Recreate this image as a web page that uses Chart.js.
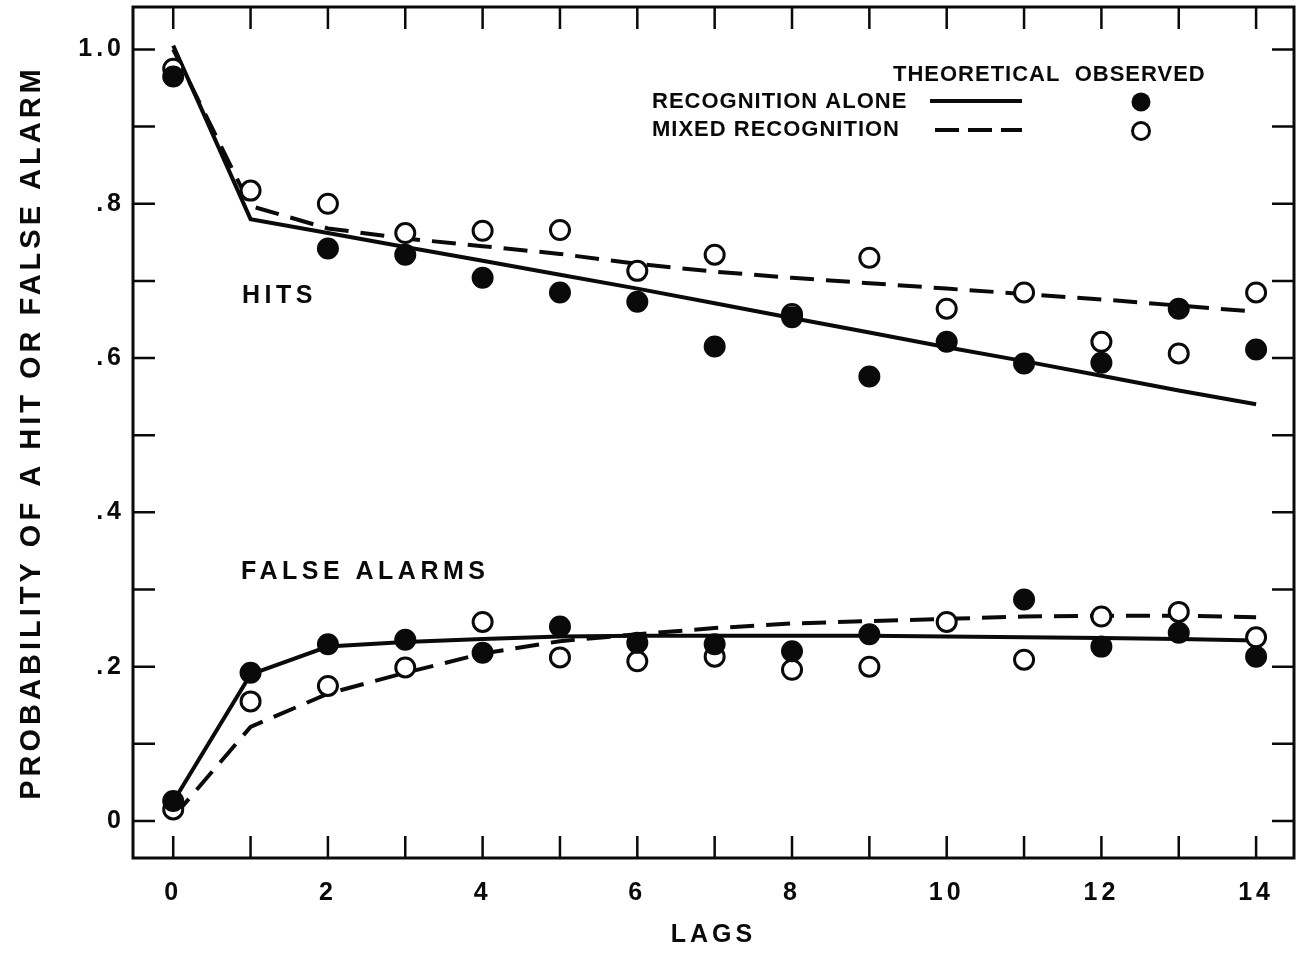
<!DOCTYPE html>
<html>
<head>
<meta charset="utf-8">
<script src="https://cdn.jsdelivr.net/npm/chart.js@4.4.1/dist/chart.umd.min.js"></script>
<style>
  html, body { margin: 0; padding: 0; background: #fff; }
  #wrap { width: 1296px; height: 954px; }
</style>
</head>
<body>
<div id="wrap"><canvas id="lagChart" width="1296" height="954"></canvas></div>
<script>
const lags = [0, 1, 2, 3, 4, 5, 6, 7, 8, 9, 10, 11, 12, 13, 14];

// theoretical curves
const hitsAloneTheory = [1.005, 0.780, 0.762, 0.744, 0.726, 0.708, 0.690, 0.671, 0.652, 0.633, 0.614, 0.596, 0.577, 0.558, 0.540];
const hitsMixedTheory = [1.0, 0.797, 0.768, 0.755, 0.745, 0.735, 0.722, 0.712, 0.704, 0.697, 0.690, 0.683, 0.676, 0.668, 0.660];
const faAloneTheory = [0.025, 0.190, 0.226, 0.232, 0.236, 0.239, 0.240, 0.240, 0.240, 0.240, 0.239, 0.238, 0.237, 0.236, 0.234];
const faMixedTheory = [0.005, 0.122, 0.165, 0.192, 0.217, 0.233, 0.242, 0.250, 0.256, 0.259, 0.262, 0.265, 0.266, 0.266, 0.264];

// observed points
const hitsAloneObs = [0.965, null, 0.742, 0.734, 0.704, 0.685, 0.673, 0.615, 0.653, 0.576, 0.621, 0.593, 0.594, 0.664, 0.611];
const hitsMixedObs = [0.975, 0.817, 0.800, 0.762, 0.765, 0.766, 0.713, 0.734, 0.657, 0.730, 0.664, 0.685, 0.621, 0.606, 0.685];
const faAloneObs = [0.026, 0.192, 0.229, 0.235, 0.218, 0.252, 0.231, 0.229, 0.220, 0.242, null, 0.287, 0.226, 0.244, 0.213];
const faMixedObs = [0.015, 0.155, 0.175, 0.199, 0.258, 0.212, 0.207, 0.213, 0.196, 0.200, 0.258, 0.209, 0.265, 0.271, 0.238];

const xTickLabels = [0, 2, 4, 6, 8, 10, 12, 14];
const yTickLabels = { 0: "0", 2: ".2", 4: ".4", 6: ".6", 8: ".8", 10: "1.0" };

const FONT = "'Liberation Sans', Arial, sans-serif";
const INK = "#0a0a0a";

const toPoints = (values) => lags.map((lag, i) => ({ x: lag, y: values[i] }));

const lineSet = (label, values, dashed) => ({
  label,
  data: toPoints(values),
  showLine: true,
  borderColor: INK,
  borderWidth: 4,
  borderDash: dashed ? [24, 12] : [],
  pointRadius: 0,
  tension: 0,
  order: 3,
});

const pointSet = (label, values, filled) => ({
  label,
  data: toPoints(values),
  showLine: false,
  pointRadius: 9.5,
  pointBorderWidth: 3,
  pointBorderColor: INK,
  pointBackgroundColor: filled ? INK : "#fff",
  order: filled ? 1 : 2,
});

// keep the plot frame where the original sits
const noPad = (s) => {
  s.paddingTop = 0;
  s.paddingBottom = 0;
  s.paddingLeft = 0;
  s.paddingRight = 0;
};

// frame, inward ticks, legend and inline labels
const framePlugin = {
  id: "frame",
  beforeDraw(chart) {
    chart.ctx.letterSpacing = "4px";
  },
  afterDraw(chart) {
    const { ctx, chartArea: a, scales } = chart;
    ctx.save();
    ctx.strokeStyle = INK;
    ctx.lineWidth = 3;
    ctx.strokeRect(a.left, a.top, a.right - a.left, a.bottom - a.top);
    ctx.lineWidth = 2.5;
    const tl = 22;
    lags.forEach((lag) => {
      const px = scales.x.getPixelForValue(lag);
      ctx.beginPath();
      ctx.moveTo(px, a.bottom); ctx.lineTo(px, a.bottom - tl);
      ctx.moveTo(px, a.top); ctx.lineTo(px, a.top + tl);
      ctx.stroke();
    });
    for (let k = 0; k <= 10; k++) {
      const py = scales.y.getPixelForValue(k / 10);
      ctx.beginPath();
      ctx.moveTo(a.left, py); ctx.lineTo(a.left + tl, py);
      ctx.moveTo(a.right, py); ctx.lineTo(a.right - tl, py);
      ctx.stroke();
    }

    ctx.fillStyle = INK;
    ctx.textBaseline = "middle";
    ctx.textAlign = "left";
    ctx.letterSpacing = "1px";
    ctx.font = `bold 22px ${FONT}`;
    ctx.fillText("THEORETICAL  OBSERVED", 893, 75);
    ctx.fillText("RECOGNITION ALONE", 652, 102);
    ctx.fillText("MIXED RECOGNITION", 652, 130);
    ctx.letterSpacing = "4.5px";
    ctx.font = `bold 25px ${FONT}`;
    ctx.fillText("HITS", 242, 296);
    ctx.fillText("FALSE ALARMS", 241, 572);

    ctx.lineWidth = 4;
    ctx.beginPath();
    ctx.moveTo(930, 101); ctx.lineTo(1022, 101);
    ctx.stroke();
    ctx.setLineDash([24, 9]);
    ctx.beginPath();
    ctx.moveTo(935, 130); ctx.lineTo(1022, 130);
    ctx.stroke();
    ctx.setLineDash([]);
    ctx.lineWidth = 3;
    ctx.beginPath();
    ctx.arc(1141, 102, 9.5, 0, Math.PI * 2);
    ctx.fill();
    ctx.beginPath();
    ctx.arc(1141, 131, 8.5, 0, Math.PI * 2);
    ctx.stroke();
    ctx.restore();
  },
};

const ctx = document.getElementById("lagChart").getContext("2d");

new Chart(ctx, {
  type: "scatter",
  data: {
    datasets: [
      lineSet("Recognition alone (hits)", hitsAloneTheory, false),
      lineSet("Mixed recognition (hits)", hitsMixedTheory, true),
      lineSet("Recognition alone (false alarms)", faAloneTheory, false),
      lineSet("Mixed recognition (false alarms)", faMixedTheory, true),
      pointSet("Observed alone (hits)", hitsAloneObs, true),
      pointSet("Observed mixed (hits)", hitsMixedObs, false),
      pointSet("Observed alone (false alarms)", faAloneObs, true),
      pointSet("Observed mixed (false alarms)", faMixedObs, false),
    ],
  },
  options: {
    responsive: false,
    animation: false,
    layout: { autoPadding: false, padding: { top: 7, right: 2, bottom: 0, left: 0 } },
    plugins: {
      legend: { display: false },
      tooltip: { enabled: false },
    },
    scales: {
      x: {
        type: "linear",
        min: -0.52,
        max: 14.49,
        afterFit: (s) => { s.height = 96; noPad(s); },
        grid: { display: false, drawTicks: false },
        border: { display: false },
        ticks: {
          stepSize: 1,
          includeBounds: false,
          autoSkip: false,
          maxRotation: 0,
          padding: 20,
          color: INK,
          font: { family: FONT, size: 25, weight: "bold" },
          callback: (v) => (xTickLabels.includes(v) ? String(v) : ""),
        },
        title: {
          display: true,
          text: "LAGS",
          color: INK,
          font: { family: FONT, size: 25, weight: "bold" },
          padding: { top: 0, bottom: 4 },
        },
      },
      y: {
        type: "linear",
        min: -0.048,
        max: 1.055,
        afterFit: (s) => { s.width = 133; noPad(s); },
        grid: { display: false, drawTicks: false },
        border: { display: false },
        ticks: {
          stepSize: 0.1,
          includeBounds: false,
          autoSkip: false,
          padding: 8,
          color: INK,
          font: { family: FONT, size: 25, weight: "bold" },
          callback: (v) => yTickLabels[Math.round(v * 10)] ?? "",
        },
        title: {
          display: true,
          text: "PROBABILITY OF A HIT OR FALSE ALARM",
          color: INK,
          font: { family: FONT, size: 29, weight: "bold" },
          padding: { top: 15, bottom: 0 },
        },
      },
    },
  },
  plugins: [framePlugin],
});
</script>
</body>
</html>
